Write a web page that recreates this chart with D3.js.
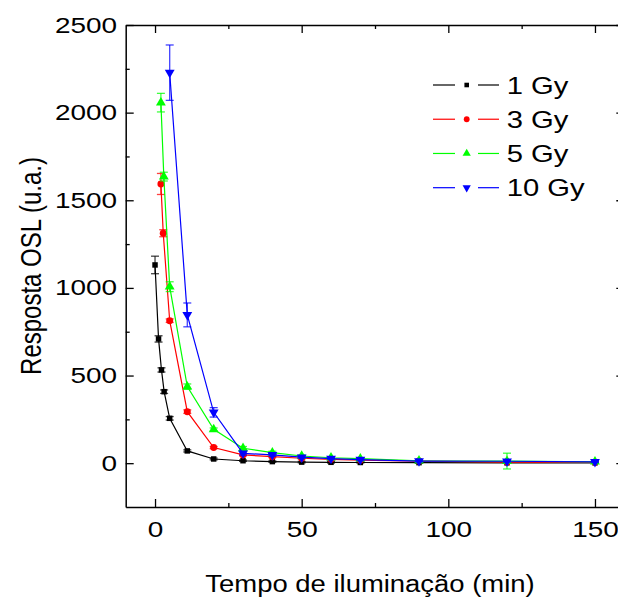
<!DOCTYPE html>
<html>
<head>
<meta charset="utf-8">
<script src="https://cdn.jsdelivr.net/npm/d3@7"></script>
<style>
  body { margin: 0; background: #fff; }
  text { font-family: "Liberation Sans", Arial, sans-serif; fill: #000; }
</style>
</head>
<body>
<div class="container"></div>
<script>
// tempo de iluminacao (min) e resposta OSL (u.a.) para cada dose
var times1 = [0, 1.2, 2.2, 3.1, 5, 11, 20, 30, 40, 50, 60, 70, 90, 120, 150];
var osl1   = [1131, 709, 532, 408, 256, 70, 24, 14, 9, 6, 5, 4, 3, 2, 2];
var err1   = [50, 18, 12, 10, 10, 6, 5, 4, 4, 4, 4, 3, 3, 3, 3];

var times3 = [2, 2.8, 5, 11, 20, 30, 40, 50, 60, 70, 90, 120, 150];
var osl3   = [1593, 1312, 813, 294, 89, 47, 37, 28, 22, 18, 12, 6, 5];
var err3   = [60, 20, 10, 10, 6, 5, 5, 4, 4, 4, 4, 4, 4];

var times5 = [2, 3, 5, 11, 20, 30, 40, 50, 60, 70, 90, 120, 150];
var osl5   = [2057, 1635, 1007, 437, 193, 85, 60, 41, 31, 26, 14, 12, 8];
var err5   = [53, 25, 28, 15, 8, 10, 8, 6, 5, 5, 5, 45, 4];

var times10 = [5, 11, 20, 30, 40, 50, 60, 70, 90, 120, 150];
var osl10   = [2228, 846, 290, 56, 47, 34, 26, 20, 12, 11, 8];
var err10   = [158, 68, 27, 10, 8, 6, 5, 5, 5, 5, 4];

var seriesNames = ['1 Gy', '3 Gy', '5 Gy', '10 Gy'];
var xTicks = [0, 50, 100, 150];
var xMinor = [25, 75, 125];
var yTicks = [0, 500, 1000, 1500, 2000, 2500];
var yMinor = [250, 750, 1250, 1750, 2250];

var colors = ['#000000', '#ff0000', '#00ff00', '#0000ff'];
var shapes = [d3.symbolSquare, d3.symbolCircle, d3.symbolTriangle, d3.symbolTriangle];
var sizes = [30, 38, 42, 42];
var flips = [0, 0, 0, 180];

const WIDTH = 618;
const HEIGHT = 599;
const LEFT = 125.7;
const RIGHT = 624.3;
const TOP = 25;
const BOTTOM = 507;
const STRETCH = 1.27;

var zip = function(t, v, e){
    return t.map(function(d, i){ return {x: d, y: v[i], e: e[i]}; });
};
var series = [zip(times1, osl1, err1), zip(times3, osl3, err3),
              zip(times5, osl5, err5), zip(times10, osl10, err10)];

var xScale = d3.scaleLinear().domain([-10, 160]).range([LEFT, RIGHT]);
var yScale = d3.scaleLinear().domain([-250, 2500]).range([BOTTOM, TOP]);

var svg = d3.select('.container').append('svg')
    .attr('width', WIDTH)
    .attr('height', HEIGHT);

// plot content
var plot = svg.append('g');

var line = d3.line()
    .x(function(d){ return xScale(d.x); })
    .y(function(d){ return yScale(d.y); });

series.forEach(function(s, k){
    var g = plot.append('g');
    g.append('path')
        .attr('d', line(s))
        .attr('fill', 'none')
        .attr('stroke', colors[k])
        .attr('stroke-width', 1.2);

    var eb = g.selectAll('.err').data(s).enter().append('g')
        .attr('stroke', colors[k])
        .attr('stroke-opacity', 0.75)
        .attr('stroke-width', 1.3);
    eb.append('line')
        .attr('x1', function(d){ return xScale(d.x); })
        .attr('x2', function(d){ return xScale(d.x); })
        .attr('y1', function(d){ return yScale(d.y - d.e); })
        .attr('y2', function(d){ return yScale(d.y + d.e); });
    [-1, 1].forEach(function(sgn){
        eb.append('line')
            .attr('x1', function(d){ return xScale(d.x) - 4; })
            .attr('x2', function(d){ return xScale(d.x) + 4; })
            .attr('y1', function(d){ return yScale(d.y + sgn * d.e); })
            .attr('y2', function(d){ return yScale(d.y + sgn * d.e); });
    });

    g.selectAll('.pt').data(s).enter().append('path')
        .attr('d', d3.symbol().type(shapes[k]).size(sizes[k]))
        .attr('transform', function(d){
            return 'translate(' + xScale(d.x) + ',' + yScale(d.y) + ') rotate(' + flips[k] + ')';
        })
        .attr('fill', colors[k]);
});

// axes (ticks pointing inwards)
var styleAxis = function(g){
    g.select('.domain').attr('stroke', '#000').attr('stroke-width', 1.5);
    g.selectAll('.tick line').attr('stroke', '#000').attr('stroke-width', 1.3);
};

svg.append('g')
    .attr('transform', 'translate(0,' + BOTTOM + ')')
    .call(d3.axisBottom(xScale).tickValues(xTicks).tickFormat(d3.format('d'))
        .tickSizeInner(-8).tickSizeOuter(0).tickPadding(14.7))
    .call(styleAxis)
    .call(function(g){
        g.selectAll('text').attr('font-size', 22).attr('font-family', null)
            .attr('transform', 'scale(' + STRETCH + ',1)');
    });
svg.append('g')
    .attr('transform', 'translate(0,' + BOTTOM + ')')
    .call(d3.axisBottom(xScale).tickValues(xMinor).tickSize(-4).tickFormat(''))
    .call(styleAxis)
    .call(function(g){ g.select('.domain').remove(); });

svg.append('g')
    .attr('transform', 'translate(' + LEFT + ',0)')
    .call(d3.axisLeft(yScale).tickValues(yTicks).tickFormat(d3.format('d'))
        .tickSizeInner(-8).tickSizeOuter(0))
    .call(styleAxis)
    .call(function(g){
        g.selectAll('text').attr('font-size', 22).attr('font-family', null)
            .attr('x', -8.7 / STRETCH)
            .attr('transform', 'scale(' + STRETCH + ',1)');
    });
svg.append('g')
    .attr('transform', 'translate(' + LEFT + ',0)')
    .call(d3.axisLeft(yScale).tickValues(yMinor).tickSize(-4).tickFormat(''))
    .call(styleAxis)
    .call(function(g){ g.select('.domain').remove(); });

svg.append('g')
    .attr('transform', 'translate(0,' + TOP + ')')
    .call(d3.axisTop(xScale).tickValues(xTicks).tickSizeInner(-8).tickSizeOuter(0).tickFormat(''))
    .call(styleAxis);
svg.append('g')
    .attr('transform', 'translate(0,' + TOP + ')')
    .call(d3.axisTop(xScale).tickValues(xMinor).tickSize(-4).tickFormat(''))
    .call(styleAxis)
    .call(function(g){ g.select('.domain').remove(); });

svg.append('g')
    .attr('transform', 'translate(' + RIGHT + ',0)')
    .call(d3.axisRight(yScale).tickValues(yTicks).tickSizeInner(-8).tickSizeOuter(0).tickFormat(''))
    .call(styleAxis);
svg.append('g')
    .attr('transform', 'translate(' + RIGHT + ',0)')
    .call(d3.axisRight(yScale).tickValues(yMinor).tickSize(-4).tickFormat(''))
    .call(styleAxis)
    .call(function(g){ g.select('.domain').remove(); });

// axis titles
svg.append('text')
    .attr('transform', 'translate(370,592) scale(1.12,1)')
    .attr('text-anchor', 'middle')
    .attr('font-size', 24.5)
    .text('Tempo de iluminação (min)');

svg.append('text')
    .attr('transform', 'translate(41,266) rotate(-90) scale(1,1.2)')
    .attr('text-anchor', 'middle')
    .attr('font-size', 24)
    .text('Resposta OSL (u.a.)');

// legend
var rowY = d3.scalePoint().domain(seriesNames).range([85, 187.7]);
var legend = svg.append('g');
seriesNames.forEach(function(name, k){
    var row = legend.append('g').attr('transform', 'translate(0,' + rowY(name) + ')');
    [[433, 455], [478, 499]].forEach(function(seg){
        row.append('line')
            .attr('x1', seg[0]).attr('x2', seg[1])
            .attr('stroke', colors[k])
            .attr('stroke-width', 1.2);
    });
    row.append('path')
        .attr('d', d3.symbol().type(shapes[k]).size(sizes[k] * 0.7))
        .attr('transform', 'translate(466.7,0) rotate(' + flips[k] + ')')
        .attr('fill', colors[k]);
    row.append('text')
        .attr('transform', 'translate(506.7,8.5) scale(' + STRETCH + ',1)')
        .attr('font-size', 23)
        .text(name);
});
</script>
</body>
</html>
